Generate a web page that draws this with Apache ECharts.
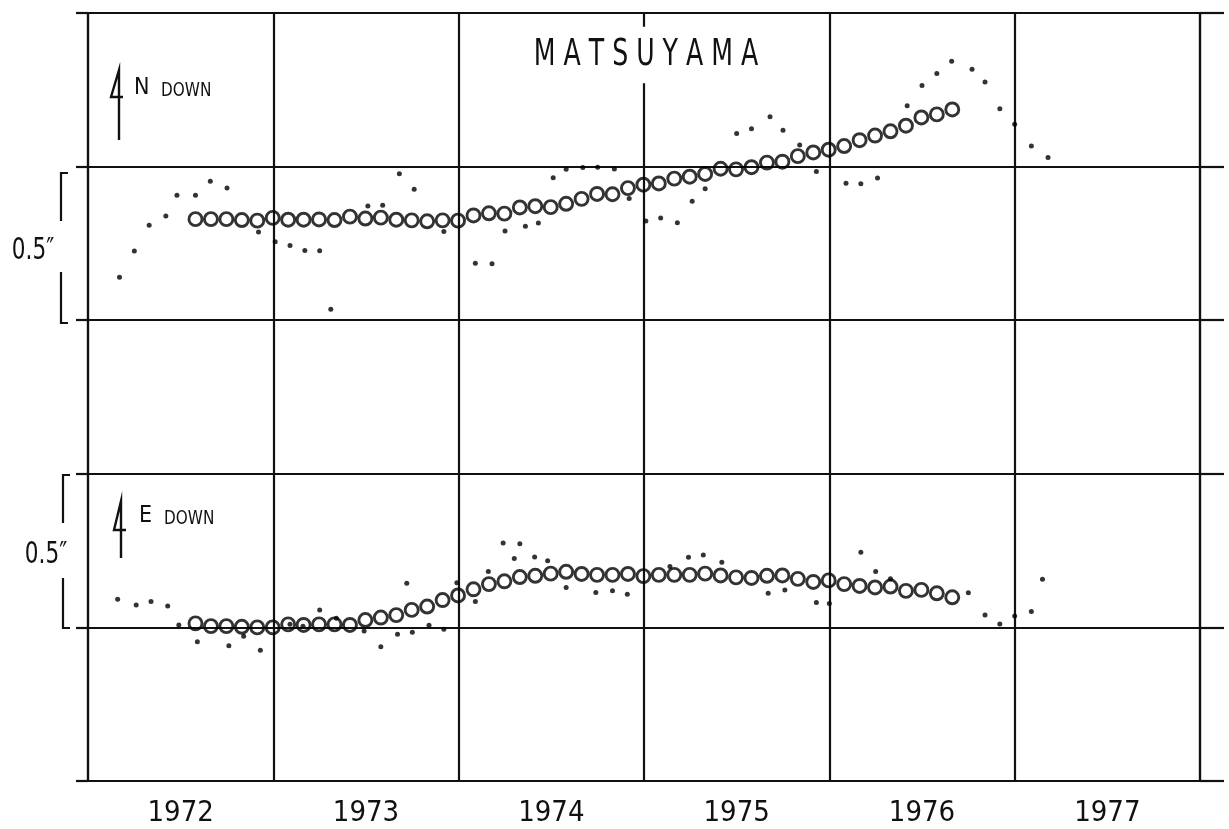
<!DOCTYPE html>
<html>
<head>
<meta charset="utf-8">
<script src="https://cdn.jsdelivr.net/npm/echarts@6/dist/echarts.min.js"></script>
<style>
  html, body { margin: 0; background: #fff; }
  #chart { width: 1229px; height: 829px; }
</style>
</head>
<body>
<div id="chart"></div>
<script>
// 年份标签（每格一年）
var years = ['1972', '1973', '1974', '1975', '1976', '1977'];

// 月平均（圆圈）从 1972 年 8 月起，每月一个，单位：角秒
var meanStart = 1972.58;
var northMean = [
  0.329, 0.329, 0.329, 0.326, 0.324, 0.333, 0.327, 0.327, 0.328, 0.326,
  0.337, 0.331, 0.334, 0.327, 0.325, 0.322, 0.325, 0.324, 0.341, 0.348,
  0.347, 0.367, 0.371, 0.368, 0.379, 0.395, 0.411, 0.410, 0.430, 0.441,
  0.445, 0.461, 0.467, 0.476, 0.493, 0.491, 0.498, 0.513, 0.516, 0.534,
  0.546, 0.555, 0.567, 0.586, 0.601, 0.615, 0.633, 0.660, 0.670, 0.686
];
var eastMean = [
  0.013, 0.004, 0.004, 0.002, 0.000, 0.000, 0.010, 0.008, 0.010, 0.010,
  0.008, 0.024, 0.032, 0.040, 0.057, 0.068, 0.089, 0.104, 0.124, 0.141,
  0.150, 0.164, 0.168, 0.175, 0.181, 0.174, 0.171, 0.171, 0.174, 0.167,
  0.171, 0.171, 0.171, 0.175, 0.169, 0.163, 0.161, 0.168, 0.169, 0.158,
  0.148, 0.153, 0.141, 0.135, 0.130, 0.133, 0.119, 0.122, 0.111, 0.098
];

// 单次观测值（小点）[年, 角秒]
var northDots = [
  [1972.17, 0.140], [1972.25, 0.225], [1972.33, 0.309], [1972.42, 0.339], [1972.48, 0.407],
  [1972.58, 0.407], [1972.66, 0.452], [1972.75, 0.430], [1972.92, 0.287], [1973.01, 0.255],
  [1973.09, 0.243], [1973.17, 0.227], [1973.25, 0.226], [1973.31, 0.036], [1973.51, 0.372],
  [1973.59, 0.374], [1973.68, 0.477], [1973.76, 0.426], [1973.92, 0.289], [1974.09, 0.185],
  [1974.18, 0.184], [1974.25, 0.290], [1974.36, 0.306], [1974.43, 0.316], [1974.51, 0.464],
  [1974.58, 0.491], [1974.67, 0.497], [1974.75, 0.498], [1974.84, 0.492], [1974.92, 0.396],
  [1975.01, 0.323], [1975.09, 0.333], [1975.18, 0.317], [1975.26, 0.387], [1975.33, 0.428],
  [1975.50, 0.608], [1975.58, 0.623], [1975.68, 0.662], [1975.75, 0.618], [1975.84, 0.570],
  [1975.93, 0.484], [1976.09, 0.446], [1976.17, 0.444], [1976.26, 0.463], [1976.42, 0.698],
  [1976.50, 0.764], [1976.58, 0.803], [1976.66, 0.843], [1976.77, 0.817], [1976.84, 0.775],
  [1976.92, 0.688], [1977.00, 0.638], [1977.09, 0.567], [1977.18, 0.530]
];
var eastDots = [
  [1972.16, 0.092], [1972.26, 0.073], [1972.34, 0.084], [1972.43, 0.070], [1972.49, 0.008],
  [1972.59, -0.047], [1972.76, -0.060], [1972.84, -0.029], [1972.93, -0.074], [1973.09, 0.010],
  [1973.16, 0.004], [1973.25, 0.057], [1973.34, 0.030], [1973.49, -0.012], [1973.58, -0.063],
  [1973.67, -0.022], [1973.72, 0.144], [1973.75, -0.016], [1973.84, 0.007], [1973.92, -0.006],
  [1973.99, 0.145], [1974.09, 0.084], [1974.16, 0.182], [1974.24, 0.275], [1974.30, 0.224],
  [1974.33, 0.272], [1974.41, 0.229], [1974.48, 0.217], [1974.58, 0.130], [1974.74, 0.114],
  [1974.83, 0.119], [1974.91, 0.108], [1975.14, 0.198], [1975.24, 0.228], [1975.32, 0.236],
  [1975.42, 0.212], [1975.67, 0.111], [1975.76, 0.122], [1975.93, 0.081], [1976.00, 0.078],
  [1976.17, 0.245], [1976.25, 0.182], [1976.33, 0.158], [1976.75, 0.113], [1976.84, 0.040],
  [1976.92, 0.011], [1977.00, 0.037], [1977.09, 0.052], [1977.15, 0.157]
];

var ink = '#111';
var narrow = "'Liberation Sans Narrow', 'DejaVu Sans Condensed', sans-serif";

function monthly(values) {
  return values.map(function (v, i) { return [meanStart + i / 12, v]; });
}

var myChart = echarts.init(document.getElementById('chart'));

var dotStyle = { color: '#000' };
var ringStyle = { color: 'rgba(0,0,0,0)', borderColor: '#000', borderWidth: 2.9 };
var gridLine = { color: ink, width: 2.2 };

var option = {
  backgroundColor: '#fff',
  animation: false,
  grid: { left: 88, right: 29, top: 13, bottom: 48 },
  xAxis: [{
    type: 'value', min: 1972, max: 1978, interval: 1, position: 'top',
    axisLine: { show: true, onZero: false, lineStyle: gridLine },
    axisTick: { show: false }, axisLabel: { show: false },
    splitLine: { show: true, lineStyle: gridLine }
  }, {
    type: 'category', data: years, position: 'bottom', boundaryGap: true,
    axisLine: { show: true, onZero: false, lineStyle: gridLine },
    axisTick: { show: false },
    axisLabel: { color: ink, fontSize: 29, fontFamily: narrow, margin: 18 },
    splitLine: { show: false }
  }],
  yAxis: [{
    // N 分量
    type: 'value', min: -1.5, max: 1.0, interval: 0.5, position: 'left',
    axisLine: { show: true, onZero: false, lineStyle: gridLine },
    axisTick: { show: true, length: 12, lineStyle: gridLine },
    axisLabel: { show: false },
    splitLine: { show: true, lineStyle: gridLine }
  }, {
    // E 分量
    type: 'value', min: -0.5, max: 2.0, interval: 0.5, position: 'right',
    axisLine: { show: true, onZero: false, lineStyle: gridLine },
    axisTick: { show: true, length: 24, lineStyle: gridLine },
    axisLabel: { show: false },
    splitLine: { show: false }
  }],
  series: [
    { name: 'N obs', type: 'scatter', xAxisIndex: 0, yAxisIndex: 0, symbolSize: 5, itemStyle: dotStyle, data: northDots },
    { name: 'N mean', type: 'scatter', xAxisIndex: 0, yAxisIndex: 0, symbolSize: 13, itemStyle: ringStyle, data: monthly(northMean) },
    { name: 'E obs', type: 'scatter', xAxisIndex: 0, yAxisIndex: 1, symbolSize: 5, itemStyle: dotStyle, data: eastDots },
    { name: 'E mean', type: 'scatter', xAxisIndex: 0, yAxisIndex: 1, symbolSize: 13, itemStyle: ringStyle, data: monthly(eastMean) }
  ],
  graphic: [
    { type: 'text', x: 646, y: 55, scaleY: 1.35, z: 100, style: {
        text: 'M A T S U Y A M A', align: 'center', verticalAlign: 'middle',
        font: '28px ' + narrow, fill: ink, backgroundColor: '#fff', padding: [7, 6] } },
    // N DOWN 箭头
    { type: 'polyline', z: 100, shape: { points: [[119, 140], [119, 70], [111, 97], [123, 97]] },
      style: { stroke: ink, lineWidth: 2.4, fill: null } },
    { type: 'text', x: 134, y: 100, z: 100, style: { text: 'N', font: '23px ' + narrow, fill: ink, verticalAlign: 'bottom' } },
    { type: 'text', x: 161, y: 101, scaleY: 1.15, z: 100, style: { text: 'DOWN', font: '17px ' + narrow, fill: ink, verticalAlign: 'bottom' } },
    // E DOWN 箭头
    { type: 'polyline', z: 100, shape: { points: [[121, 558], [121, 501], [114, 530], [126, 530]] },
      style: { stroke: ink, lineWidth: 2.4, fill: null } },
    { type: 'text', x: 139, y: 528, z: 100, style: { text: 'E', font: '23px ' + narrow, fill: ink, verticalAlign: 'bottom' } },
    { type: 'text', x: 164, y: 529, scaleY: 1.15, z: 100, style: { text: 'DOWN', font: '17px ' + narrow, fill: ink, verticalAlign: 'bottom' } },
    // 0.5″ 比例尺
    { type: 'polyline', z: 100, shape: { points: [[68, 173], [61, 173], [61, 221]] }, style: { stroke: ink, lineWidth: 2.2, fill: null } },
    { type: 'polyline', z: 100, shape: { points: [[61, 272], [61, 323], [68, 323]] }, style: { stroke: ink, lineWidth: 2.2, fill: null } },
    { type: 'text', x: 33, y: 251, scaleY: 1.25, z: 100, style: { text: '0.5″', font: '24px ' + narrow, fill: ink, align: 'center', verticalAlign: 'middle' } },
    { type: 'polyline', z: 100, shape: { points: [[70, 475], [63, 475], [63, 523]] }, style: { stroke: ink, lineWidth: 2.2, fill: null } },
    { type: 'polyline', z: 100, shape: { points: [[63, 578], [63, 628], [70, 628]] }, style: { stroke: ink, lineWidth: 2.2, fill: null } },
    { type: 'text', x: 46, y: 555, scaleY: 1.25, z: 100, style: { text: '0.5″', font: '24px ' + narrow, fill: ink, align: 'center', verticalAlign: 'middle' } }
  ]
};

myChart.setOption(option);
</script>
</body>
</html>
